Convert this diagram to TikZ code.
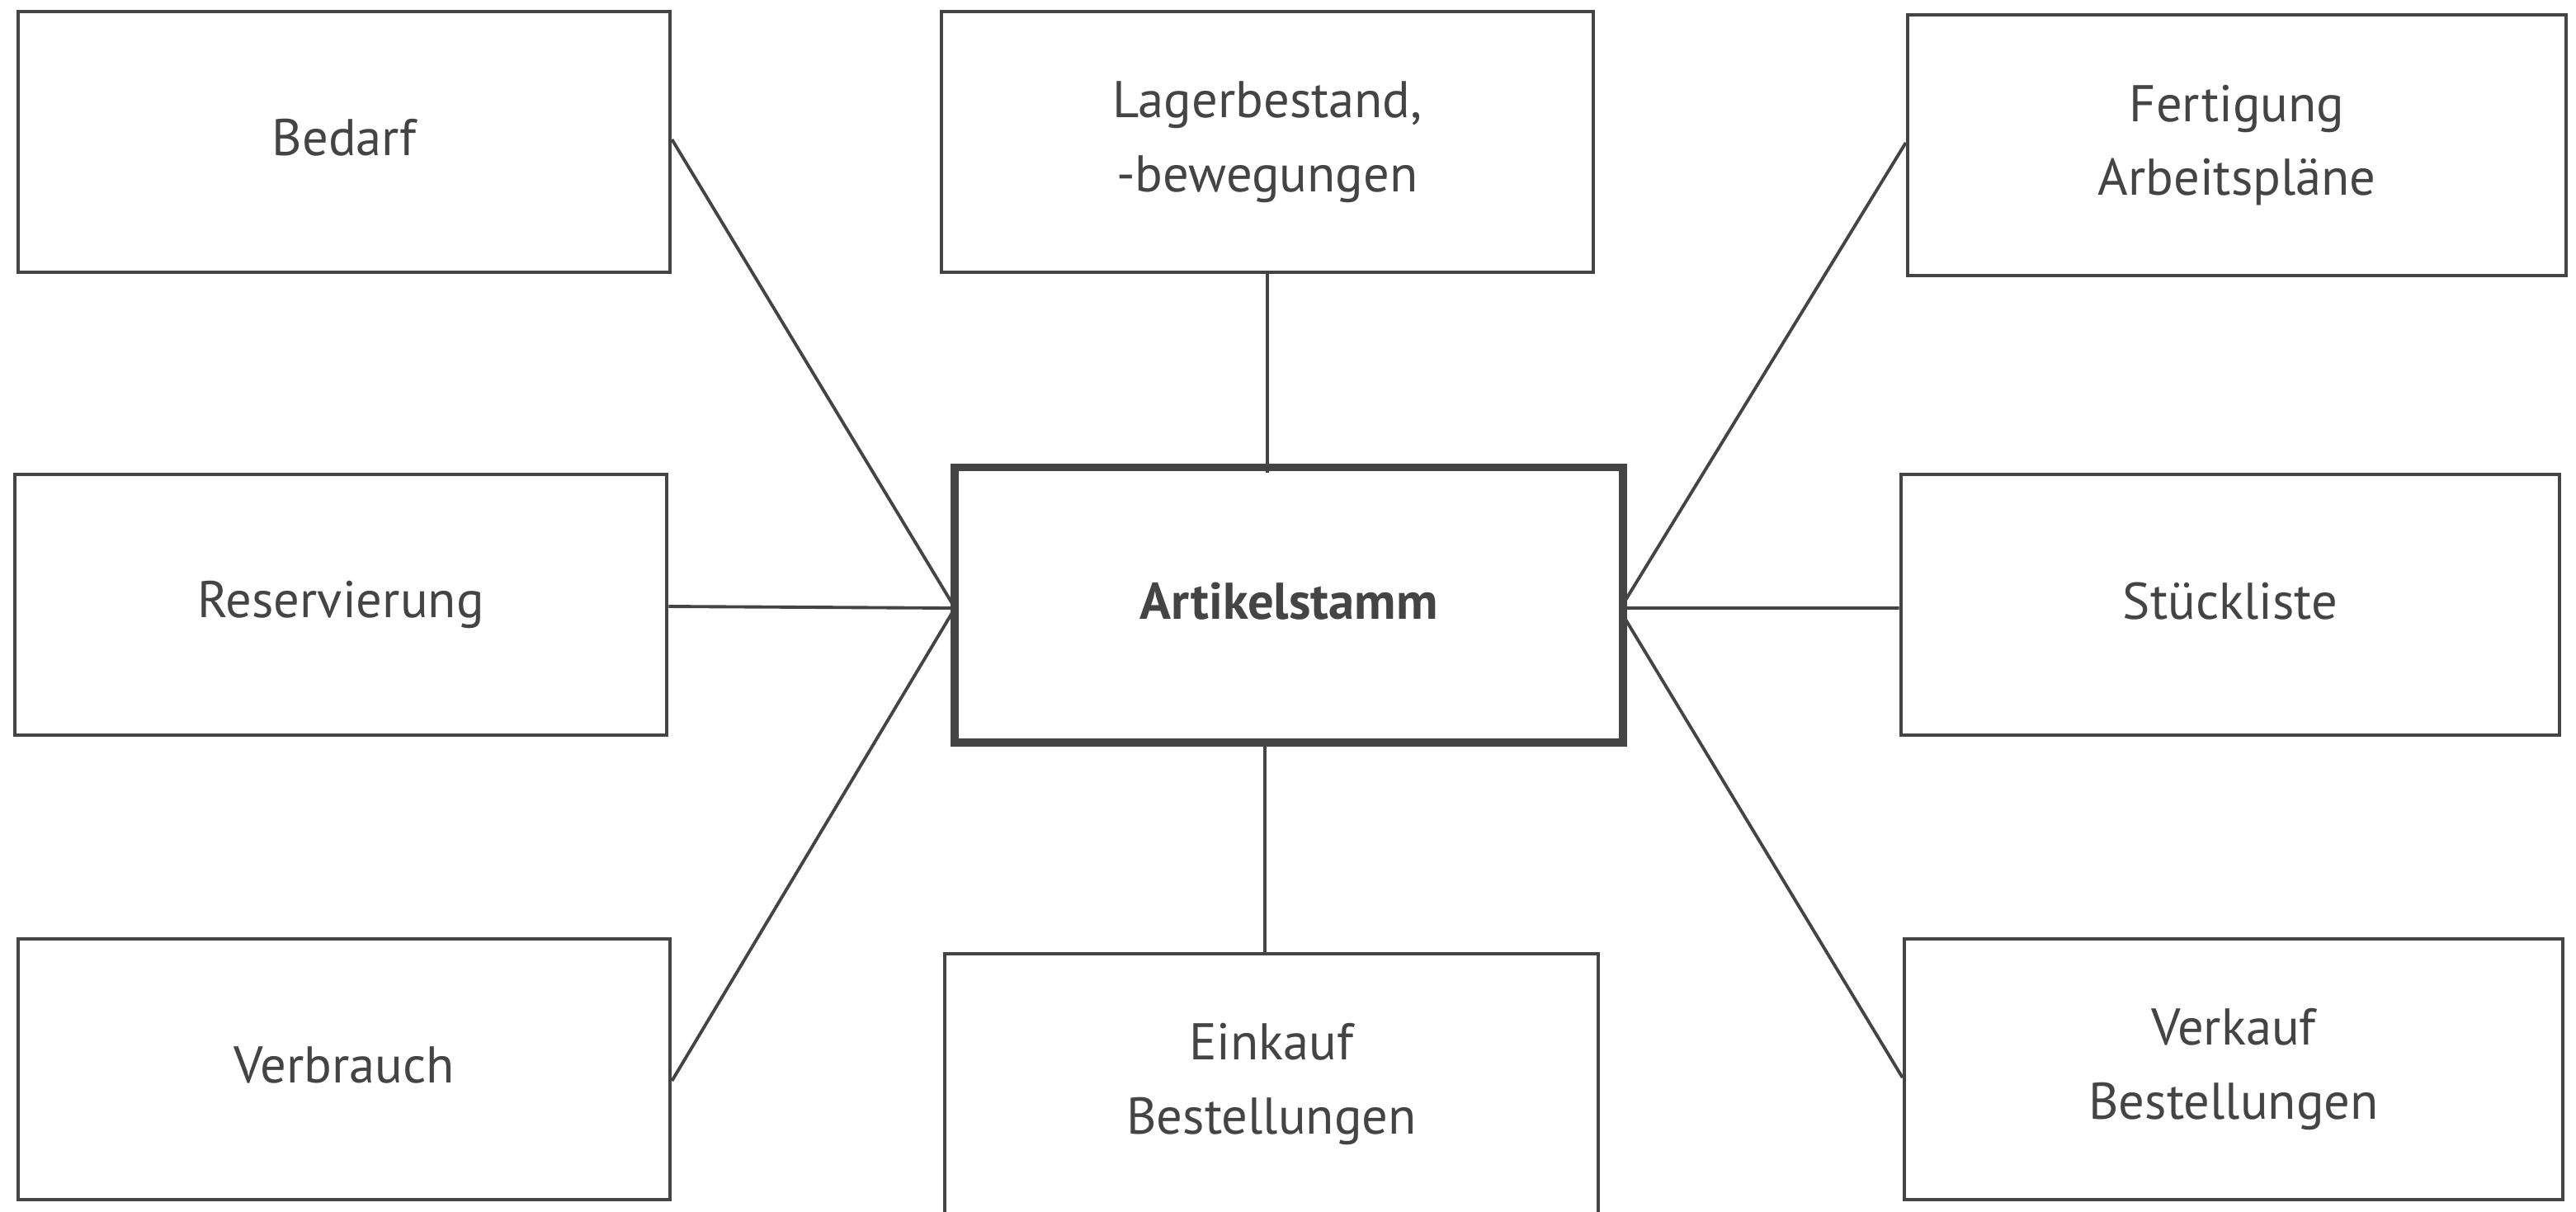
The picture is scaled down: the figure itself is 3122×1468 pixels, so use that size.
\documentclass[tikz,border=0pt]{standalone}
\usepackage{fontspec}
\setmainfont{PT Sans}
\definecolor{ink}{HTML}{444444}
\begin{document}
\begin{tikzpicture}[x=0.01cm,y=-0.01cm,
  box/.style={draw=ink,line width=1.2pt,text=ink,align=center,
    minimum width=7.9cm,minimum height=3.16cm,inner sep=0pt,
    font=\fontsize{17.8}{25.5}\selectfont},
  mainbox/.style={box,line width=2.8pt,minimum width=8.1cm,minimum height=3.33cm,
    font=\fontsize{17.8}{25.5}\selectfont\bfseries},
  lift/.style={text depth=3pt},
  link/.style={draw=ink,line width=1.1pt}]
\useasboundingbox[fill=white] (0,0) rectangle (3122,1468);
\node[box,lift] (bedarf) at (417,172) {Bedarf};
\node[box] (lager) at (1536,172) {Lagerbestand,\\-bewegungen};
\node[box,minimum width=7.98cm] (fert) at (2711,176) {Fertigung\\Arbeitspläne};
\node[box] (res) at (413,733) {Reservierung};
\node[mainbox,lift] (art) at (1562,733) {Artikelstamm};
\node[box,lift,minimum width=7.98cm] (stueck) at (2703,733) {Stückliste};
\node[box,lift] (verbr) at (417,1296) {Verbrauch};
\node[box,minimum width=7.92cm] (eink) at (1541,1314) {Einkauf\\Bestellungen};
\node[box,minimum width=7.98cm] (verk) at (2707,1296) {Verkauf\\Bestellungen};
\coordinate (aL1) at (1155,733);
\coordinate (aL2) at (1155,737);
\coordinate (aL3) at (1155,741);
\coordinate (aR1) at (1969,729);
\coordinate (aR2) at (1969,737);
\coordinate (aR3) at (1969,749);
\coordinate (eTop) at (1533,1155);
\coordinate (aTop) at (1536,573);
\coordinate (aBot) at (1533,900);
\draw[link] ([yshift=0.03cm]bedarf.east) -- (aL1);
\draw[link] ([yshift=-0.02cm]res.east) -- (aL2);
\draw[link] ([yshift=-0.14cm]verbr.east) -- (aL3);
\draw[link] (lager.south) -- (aTop);
\draw[link] (eTop) -- (aBot);
\draw[link] ([yshift=0.03cm]fert.west) -- (aR1);
\draw[link] ([yshift=-0.04cm]stueck.west) -- (aR2);
\draw[link] ([yshift=-0.1cm]verk.west) -- (aR3);
\end{tikzpicture}
\end{document}
